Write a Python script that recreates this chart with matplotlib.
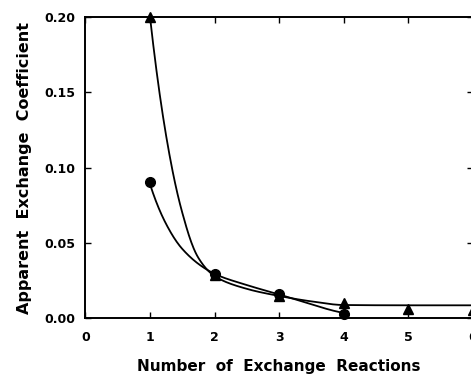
import numpy as np
import matplotlib
matplotlib.use("Agg")
import matplotlib.pyplot as plt

# measured points
tri_x = [1, 2, 3, 4, 5, 6]
tri_y = [0.200, 0.029, 0.015, 0.010, 0.0063, 0.0055]
circ_x = [1, 2, 3, 4]
circ_y = [0.0905, 0.0295, 0.0158, 0.0031]

# the drawn curves
tri_curve_x = [1, 1.25, 1.5, 1.75, 2, 2.5, 3, 3.5, 4, 5, 6]
tri_curve_y = [0.200, 0.121, 0.070, 0.040, 0.028, 0.0195, 0.0148, 0.0112,
               0.0088, 0.0086, 0.0086]
circ_curve_x = [1, 1.25, 1.5, 2, 2.5, 3, 3.5, 4]
circ_curve_y = [0.089, 0.0625, 0.046, 0.0295, 0.022, 0.0158, 0.0092, 0.0035]

x_ticks = [0, 1, 2, 3, 4, 5, 6]
y_ticks = [0.00, 0.05, 0.10, 0.15, 0.20]


def pchip(x, y, n=400):
    # monotone cubic hermite, just to draw the curve smoothly
    x = np.asarray(x, float)
    y = np.asarray(y, float)
    h = np.diff(x)
    d = np.diff(y) / h
    m = np.zeros_like(y)
    for k in range(1, len(x) - 1):
        if d[k - 1] * d[k] > 0:
            w1 = 2 * h[k] + h[k - 1]
            w2 = h[k] + 2 * h[k - 1]
            m[k] = (w1 + w2) / (w1 / d[k - 1] + w2 / d[k])
    m[0] = ((2 * h[0] + h[1]) * d[0] - h[0] * d[1]) / (h[0] + h[1])
    if np.sign(m[0]) != np.sign(d[0]):
        m[0] = 0
    m[-1] = ((2 * h[-1] + h[-2]) * d[-1] - h[-1] * d[-2]) / (h[-1] + h[-2])
    if np.sign(m[-1]) != np.sign(d[-1]):
        m[-1] = 0
    xs = np.linspace(x[0], x[-1], n)
    idx = np.clip(np.searchsorted(x, xs) - 1, 0, len(x) - 2)
    t = (xs - x[idx]) / h[idx]
    h00 = 2 * t**3 - 3 * t**2 + 1
    h10 = t**3 - 2 * t**2 + t
    h01 = -2 * t**3 + 3 * t**2
    h11 = t**3 - t**2
    ys = (h00 * y[idx] + h10 * h[idx] * m[idx]
          + h01 * y[idx + 1] + h11 * h[idx] * m[idx + 1])
    return xs, ys


def smooth_curve(x, y):
    # interpolate in log space so the decay stays smooth
    xs, ly = pchip(x, np.log(y))
    return xs, np.exp(ly)


plt.rcParams["font.family"] = ["DejaVu Sans"]
plt.rcParams["font.weight"] = "bold"

fig = plt.figure(figsize=(4.71, 3.78), dpi=100)
ax = fig.add_axes([0.1813, 0.1580, 0.8230, 0.7975])

ax.plot(*smooth_curve(tri_curve_x, tri_curve_y), color="black", lw=1.3,
        clip_on=False)
ax.plot(*smooth_curve(circ_curve_x, circ_curve_y), color="black", lw=1.3,
        clip_on=False)
ax.plot(tri_x, tri_y, "^", color="black", ms=6.5, clip_on=False)
ax.plot(circ_x, circ_y, "o", color="black", ms=7, clip_on=False)

ax.set_xlim(0, 6)
ax.set_ylim(0, 0.20)
ax.set_xticks(x_ticks)
ax.set_yticks(y_ticks)
ax.set_xticklabels([str(v) for v in x_ticks])
ax.set_yticklabels([f"{v:.2f}" for v in y_ticks])
ax.tick_params(direction="in", length=4.5, width=1.0, labelsize=9,
               top=True, right=True)
ax.tick_params(axis="y", pad=7)
ax.tick_params(axis="x", pad=9)
for s in ax.spines.values():
    s.set_linewidth(1.4)

ax.set_xlabel("Number  of  Exchange  Reactions", fontsize=11,
              fontweight="bold", labelpad=11)
ax.set_ylabel("Apparent  Exchange  Coefficient", fontsize=11.5,
              fontweight="bold", labelpad=9)

fig.savefig("out.png", dpi=100)
